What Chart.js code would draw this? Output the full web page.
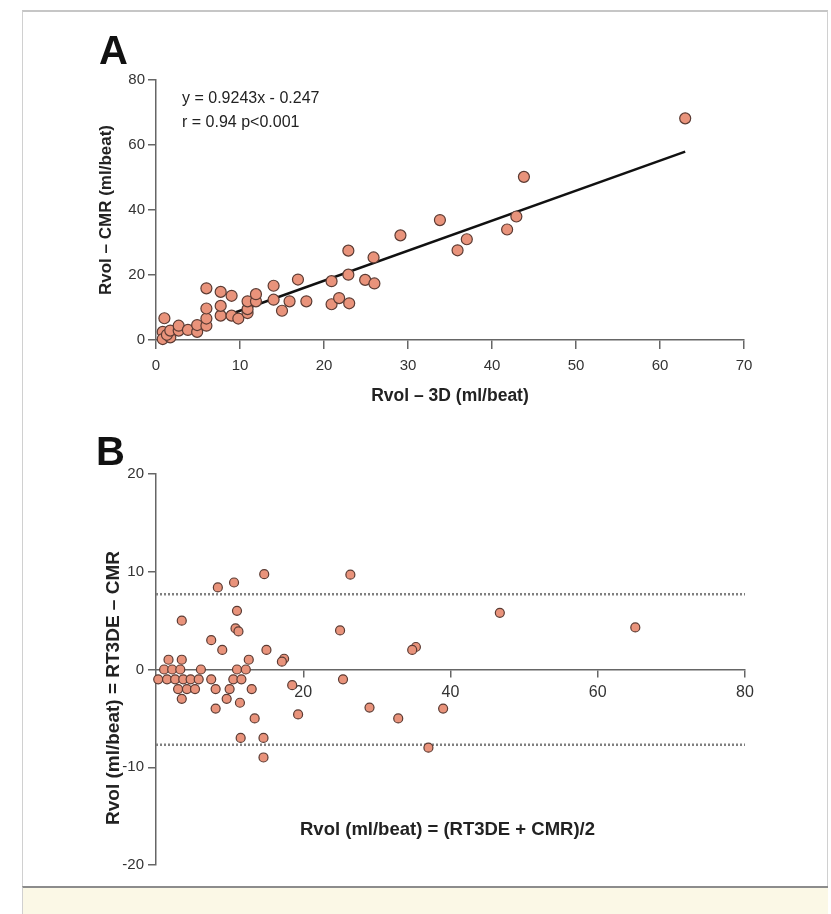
<!DOCTYPE html>
<html>
<head>
<meta charset="utf-8">
<script src="https://cdn.jsdelivr.net/npm/chart.js@4.4.0/dist/chart.umd.min.js"></script>
<style>
  body { margin:0; background:#fff; font-family:'Liberation Sans', Arial, sans-serif; }
  #page { position:relative; width:831px; height:914px; overflow:hidden; }
  #frame { position:absolute; left:22px; top:10px; width:804px; height:874px; border:1px solid #d0d0d0; border-top:2px solid #c6c6c6; }
  #foot { position:absolute; left:22px; top:886px; width:805px; height:28px; background:#fbf8e6; border-top:2px solid #8c8c8c; border-left:1px solid #d0d0d0; }
  .wrap { position:absolute; left:0; }
  .lbl { position:absolute; color:#111; white-space:nowrap; line-height:1; }
  .rot { transform: translate(-50%, -50%) rotate(-90deg); }
</style>
</head>
<body>
<div id="page">
  <div id="frame"></div>
  <div id="foot"></div>
  <div class="wrap" style="top:0"><canvas id="chartA" width="831" height="430"></canvas></div>
  <div class="wrap" style="top:430px"><canvas id="chartB" width="831" height="484"></canvas></div>
  <div class="lbl" style="left:99px;top:30px;font-size:40px;font-weight:bold">A</div>
  <div class="lbl" style="left:96px;top:431px;font-size:40px;font-weight:bold">B</div>
  <div class="lbl" style="left:182px;top:86px;font-size:16px;line-height:24px;color:#222">y = 0.9243x - 0.247<br>r = 0.94 p&lt;0.001</div>
  <div class="lbl" style="left:300px;top:820px;font-size:18.5px;font-weight:bold;color:#222">Rvol (ml/beat) = (RT3DE + CMR)/2</div>
  <div class="lbl rot" style="left:112px;top:688px;font-size:19px;font-weight:bold;color:#222">Rvol (ml/beat) = RT3DE – CMR</div>
</div>
<script>
// panel A: 3D vs CMR
const rvol3D = [1.0,0.8,0.8,1.7,1.3,1.7,2.7,2.7,3.8,4.9,4.9,6.0,6.0,6.0,6.0,7.7,7.7,7.7,9.0,9.0,9.8,10.9,10.9,10.9,11.9,11.9,14.0,14.0,15.0,15.9,16.9,17.9,20.9,20.9,21.8,23.0,22.9,22.9,24.9,26.0,25.9,29.1,33.8,35.9,37.0,41.8,42.9,43.8,63.0]
const rvolCMR = [6.7,2.5,0.3,0.8,1.6,2.9,2.9,4.4,3.1,2.5,4.6,4.4,6.6,9.7,15.9,7.5,10.5,14.8,7.5,13.6,6.6,8.3,9.5,11.9,11.9,14.1,12.4,16.7,9.0,11.9,18.6,11.9,11.0,18.1,12.9,11.3,20.1,27.5,18.5,17.4,25.4,32.2,36.9,27.6,31.0,34.0,38.0,50.2,68.2]
const fitSlope = 0.9243
const fitIntercept = -0.247
const fitRange = [9, 63]
const xTicksA = [0,10,20,30,40,50,60,70]
const yTicksA = [0,20,40,60,80]

// panel B: Bland-Altman
const meanRvol = [14.7,26.4,8.4,10.6,11.0,3.5,10.8,11.2,25.0,46.7,65.1,35.3,34.8,7.5,9.0,15.0,12.6,17.4,17.1,1.7,3.5,1.1,2.2,3.3,6.1,11.0,12.2,0.3,1.5,2.6,3.7,4.7,5.8,7.5,10.5,11.6,25.4,3.0,4.2,5.3,8.1,10.0,13.0,18.5,3.5,9.6,11.4,8.1,19.3,13.4,29.0,32.9,39.0,11.5,14.6,14.6,37.0]
const diffRvol = [9.75,9.7,8.4,8.9,6.0,5.0,4.2,3.9,4.0,5.8,4.3,2.3,2.0,3.0,2.0,2.0,1.0,1.1,0.8,1.0,1.0,0,0,0,0,0,0,-1,-1,-1,-1,-1,-1,-1,-1,-1,-1,-2,-2,-2,-2,-2,-2,-1.6,-3,-3,-3.4,-4,-4.6,-5,-3.9,-5,-4,-7,-7,-9,-8]
const limitsB = [7.7, -7.7]
const xTicksB = [20,40,60,80]
const yTicksB = [-20,-10,0,10,20]

const axisGrey = '#666'
const dotFill = '#e9937b'
const dotEdge = '#5b3b33'
const tickFont = {family:"'Liberation Sans', Arial, sans-serif", size:15}
const titleFont = {family:"'Liberation Sans', Arial, sans-serif", size:17, weight:'bold'}

function setTicks(list){
    return scale => { scale.ticks = list.map(v => ({value:v})) }
}

let ptsA = rvol3D.map((x,i) => ({x:x, y:rvolCMR[i]}))
let fitA = fitRange.map(x => ({x:x, y:fitSlope*x + fitIntercept}))

new Chart(document.getElementById('chartA'), {
    type: 'scatter',
    data: {
        datasets: [
            {data: ptsA, backgroundColor: dotFill, borderColor: dotEdge, borderWidth: 1.2, pointRadius: 5.5, clip: false},
            {data: fitA, showLine: true, borderColor: '#111', borderWidth: 2.5, pointRadius: 0, clip: false}
        ]
    },
    options: {
        responsive: false, animation: false,
        layout: {padding: {left: 92, right: 87, top: 80, bottom: 0}},
        plugins: {legend: {display: false}, tooltip: {enabled: false}},
        scales: {
            x: {
                type: 'linear', min: 0, max: 70,
                afterFit: s => { s.height = 90 },
                afterBuildTicks: setTicks(xTicksA),
                grid: {drawOnChartArea: false, tickLength: 9, color: axisGrey, lineWidth: 1.5},
                border: {color: axisGrey, width: 1.5},
                ticks: {font: tickFont, color: '#333', padding: 8},
                title: {display: true, text: 'Rvol – 3D (ml/beat)', font: {...titleFont, size: 17.5}, color: '#222', padding: {top: 0, bottom: 23}}
            },
            y: {
                type: 'linear', min: 0, max: 80,
                afterFit: s => { s.width = 64 },
                afterBuildTicks: setTicks(yTicksA),
                grid: {drawOnChartArea: false, tickLength: 8, color: axisGrey, lineWidth: 1.5},
                border: {color: axisGrey, width: 1.5},
                ticks: {font: tickFont, color: '#333', padding: 3},
                title: {display: true, text: 'Rvol – CMR (ml/beat)', font: titleFont, color: '#222', padding: {top: 4, bottom: 0}}
            }
        }
    }
})

let ptsB = meanRvol.map((x,i) => ({x:x, y:diffRvol[i]}))
let limitSets = limitsB.map(v => ({
    data: [{x:0, y:v}, {x:80, y:v}],
    showLine: true, borderColor: '#808080', borderWidth: 2.5, borderDash: [2, 2],
    pointRadius: 0, clip: false
}))

new Chart(document.getElementById('chartB'), {
    type: 'scatter',
    data: {
        datasets: [
            {data: ptsB, backgroundColor: dotFill, borderColor: dotEdge, borderWidth: 1.2, pointRadius: 4.5, clip: false}
        ].concat(limitSets)
    },
    options: {
        responsive: false, animation: false,
        layout: {padding: {left: 98, right: 86, top: 44, bottom: 49}},
        plugins: {legend: {display: false}, tooltip: {enabled: false}},
        scales: {
            x: {
                type: 'linear', min: 0, max: 80,
                position: {y: 0},
                afterFit: s => { s.height = 0 },
                afterBuildTicks: setTicks(xTicksB),
                grid: {drawOnChartArea: false, tickLength: 7, color: axisGrey, lineWidth: 1.5},
                border: {color: axisGrey, width: 1.5},
                ticks: {font: {...tickFont, size: 16}, color: '#333', padding: 6}
            },
            y: {
                type: 'linear', min: -20, max: 20,
                afterFit: s => { s.width = 58 },
                afterBuildTicks: setTicks(yTicksB),
                grid: {drawOnChartArea: false, tickLength: 8, color: axisGrey, lineWidth: 1.5},
                border: {color: axisGrey, width: 1.5},
                ticks: {font: tickFont, color: '#333', padding: 4}
            }
        }
    }
})
</script>
</body>
</html>
